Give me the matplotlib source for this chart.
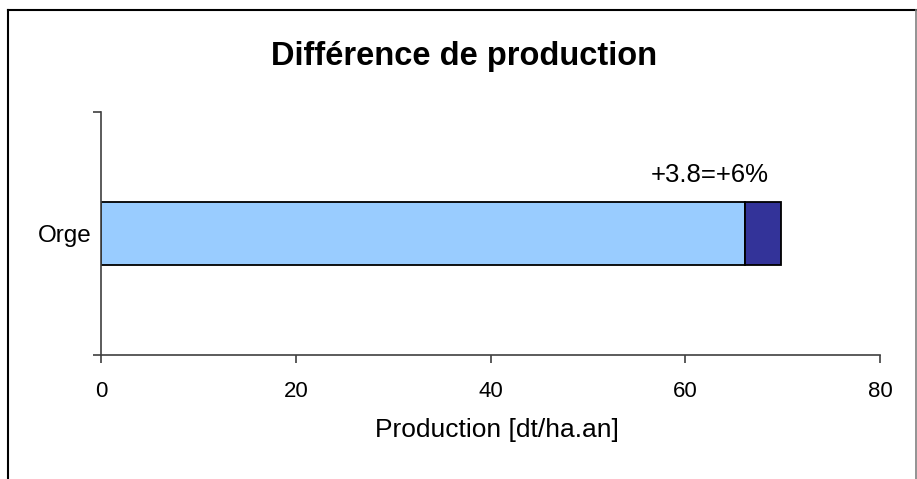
import matplotlib.pyplot as plt
from matplotlib.lines import Line2D

plt.rcParams['font.family'] = ['Liberation Sans', 'DejaVu Sans']

# data
categories = ["Orge"]
base_values = [66.1]
increase_values = [3.7]
increase_label = "+3.8=+6%"
xticks = [0, 20, 40, 60, 80]

W, H = 917, 479
fig = plt.figure(figsize=(W / 100, H / 100), dpi=100)
ax = fig.add_axes([101 / W, 1 - 355 / H, (880 - 101) / W, (355 - 112) / H])

# stacked horizontal bar
ax.barh(0, base_values[0], height=0.263, color="#99CCFF", edgecolor="black", linewidth=1.3)
ax.barh(0, increase_values[0], left=base_values[0], height=0.263,
        color="#333399", edgecolor="black", linewidth=1.3)

ax.set_xlim(0, 80)
ax.set_ylim(-0.5, 0.5)
ax.set_xticks(xticks)
ax.set_xticklabels([str(t) for t in xticks])

# category boundary ticks, label in the middle
ax.set_yticks([-0.5, 0.5])
ax.set_yticklabels(["", ""])
ax.set_yticks([0], minor=True)
ax.set_yticklabels(categories, minor=True)
ax.tick_params(axis="y", which="minor", length=0, pad=7, labelsize=17.5)
ax.tick_params(axis="y", which="major", length=6, width=1.2, color="#404040")
ax.tick_params(axis="x", length=6, width=1.2, color="#404040", pad=13, labelsize=16)

for s in ["top", "right"]:
    ax.spines[s].set_visible(False)
for s in ["left", "bottom"]:
    ax.spines[s].set_color("#404040")
    ax.spines[s].set_linewidth(1.2)

# annotation above the increase
fig.text(710 / W, 1 - 181.5 / H, increase_label, ha="center", va="baseline", fontsize=18.5)

# title and axis label
fig.text(464 / W, 1 - 65 / H, "Différence de production", ha="center", va="baseline",
         fontsize=23.5, fontweight="bold")
fig.text(497 / W, 1 - 437 / H, "Production [dt/ha.an]", ha="center", va="baseline", fontsize=19)

# chart frame (bottom edge is cut off in the original)
fig.add_artist(Line2D([8 / W, 8 / W], [0, 1 - 10 / H], color="black", linewidth=1.5))
fig.add_artist(Line2D([8 / W, 915.5 / W], [1 - 10 / H, 1 - 10 / H], color="black", linewidth=1.5))
fig.add_artist(Line2D([915.5 / W, 915.5 / W], [0, 1 - 10 / H], color="#808080", linewidth=1.2))

fig.savefig("out.png", dpi=100)
